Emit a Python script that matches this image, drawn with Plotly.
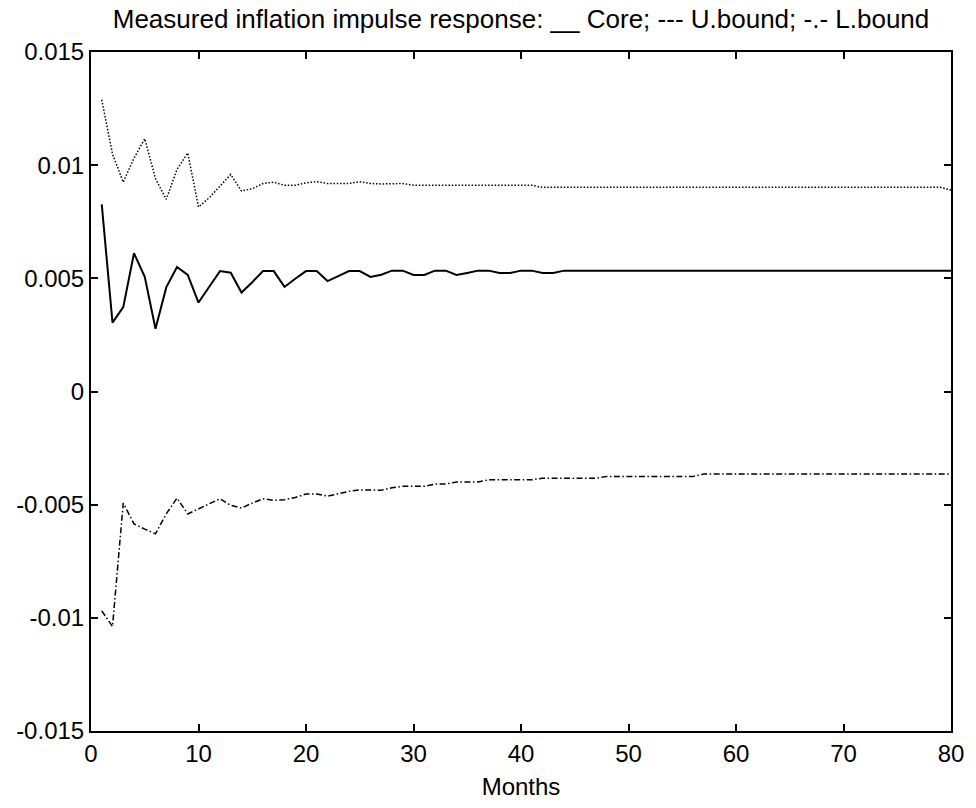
import plotly.graph_objects as go

months = list(range(1, 81))

core = [0.00827, 0.00304, 0.00373, 0.00611, 0.00507, 0.00277, 0.00460, 0.00550, 0.00515, 0.00393,
        0.00463, 0.00532, 0.00525, 0.00437, 0.00483, 0.00532, 0.00532, 0.00462, 0.00498, 0.00532,
        0.00532, 0.00488, 0.00510, 0.00532, 0.00532, 0.00506, 0.00516, 0.00534, 0.00534, 0.00515,
        0.00515, 0.00534, 0.00534, 0.00515, 0.00524, 0.00534, 0.00534, 0.00524, 0.00524, 0.00534,
        0.00534, 0.00524, 0.00524, 0.00534, 0.00534, 0.00534, 0.00534, 0.00534, 0.00534, 0.00534,
        0.00534, 0.00534, 0.00534, 0.00534, 0.00534, 0.00534, 0.00534, 0.00534, 0.00534, 0.00534,
        0.00534, 0.00534, 0.00534, 0.00534, 0.00534, 0.00534, 0.00534, 0.00534, 0.00534, 0.00534,
        0.00534, 0.00534, 0.00534, 0.00534, 0.00534, 0.00534, 0.00534, 0.00534, 0.00534, 0.00534]

upper = [0.01289, 0.01050, 0.00925, 0.01031, 0.01117, 0.00940, 0.00849, 0.00981, 0.01054, 0.00815,
         0.00856, 0.00908, 0.00959, 0.00886, 0.00896, 0.00919, 0.00925, 0.00911, 0.00911, 0.00922,
         0.00927, 0.00919, 0.00919, 0.00919, 0.00927, 0.00919, 0.00917, 0.00919, 0.00919, 0.00911,
         0.00911, 0.00911, 0.00911, 0.00911, 0.00911, 0.00911, 0.00911, 0.00911, 0.00911, 0.00911,
         0.00911, 0.00902, 0.00902, 0.00902, 0.00902, 0.00902, 0.00902, 0.00902, 0.00902, 0.00902,
         0.00902, 0.00902, 0.00902, 0.00902, 0.00902, 0.00902, 0.00902, 0.00902, 0.00902, 0.00902,
         0.00902, 0.00902, 0.00902, 0.00902, 0.00902, 0.00902, 0.00902, 0.00902, 0.00902, 0.00902,
         0.00902, 0.00902, 0.00902, 0.00902, 0.00902, 0.00902, 0.00902, 0.00902, 0.00902, 0.00890]

lower = [-0.00969, -0.01038, -0.00493, -0.00585, -0.00608, -0.00629, -0.00541, -0.00471, -0.00541, -0.00519,
         -0.00497, -0.00474, -0.00503, -0.00515, -0.00493, -0.00474, -0.00481, -0.00478, -0.00468, -0.00453,
         -0.00453, -0.00462, -0.00452, -0.00441, -0.00435, -0.00435, -0.00436, -0.00425, -0.00419, -0.00419,
         -0.00419, -0.00409, -0.00409, -0.00400, -0.00400, -0.00400, -0.00390, -0.00390, -0.00390, -0.00390,
         -0.00390, -0.00383, -0.00383, -0.00383, -0.00383, -0.00383, -0.00383, -0.00375, -0.00375, -0.00375,
         -0.00375, -0.00375, -0.00375, -0.00375, -0.00375, -0.00375, -0.00365, -0.00365, -0.00365, -0.00365,
         -0.00365, -0.00365, -0.00365, -0.00365, -0.00365, -0.00365, -0.00365, -0.00365, -0.00365, -0.00365,
         -0.00365, -0.00365, -0.00365, -0.00365, -0.00365, -0.00365, -0.00365, -0.00365, -0.00365, -0.00365]

x_ticks = [0, 10, 20, 30, 40, 50, 60, 70, 80]
y_ticks = [0.015, 0.01, 0.005, 0, -0.005, -0.01, -0.015]
y_tick_text = ["0.015", "0.01", "0.005", "0", "-0.005", "-0.01", "-0.015"]

title_text = "Measured inflation impulse response: __ Core; --- U.bound; -.- L.bound"
FONT = "Arial, Liberation Sans, sans-serif"

fig = go.Figure()
fig.add_trace(go.Scatter(x=months, y=upper, mode="lines",
                         line=dict(color="black", width=1.5, dash="1.5px,1.8px"), name="U.bound"))
fig.add_trace(go.Scatter(x=months, y=core, mode="lines",
                         line=dict(color="black", width=2), name="Core"))
fig.add_trace(go.Scatter(x=months, y=lower, mode="lines",
                         line=dict(color="black", width=1.5, dash="6px,2.5px,1.5px,2.5px"), name="L.bound"))

axis_common = dict(showline=True, linecolor="black", linewidth=2, mirror="ticks",
                   ticks="inside", ticklen=7, tickwidth=1.5, tickcolor="black",
                   showgrid=False, zeroline=False,
                   tickfont=dict(family=FONT, size=24, color="black"))

fig.update_layout(
    width=976, height=808,
    margin=dict(l=91, r=20, t=52, b=74),
    paper_bgcolor="white", plot_bgcolor="white",
    showlegend=False,
    title=dict(text=title_text, x=0.5, xref="paper", xanchor="center",
               y=1 - 19 / 808, yref="container", yanchor="middle",
               font=dict(family=FONT, size=26, color="black")),
    xaxis=dict(range=[0, 80], tickvals=x_ticks,
               title=dict(text="Months", font=dict(family=FONT, size=24, color="black"), standoff=12),
               **axis_common),
    yaxis=dict(range=[-0.015, 0.015], tickvals=y_ticks, ticktext=y_tick_text, **axis_common),
)

fig.write_html("out.html")
